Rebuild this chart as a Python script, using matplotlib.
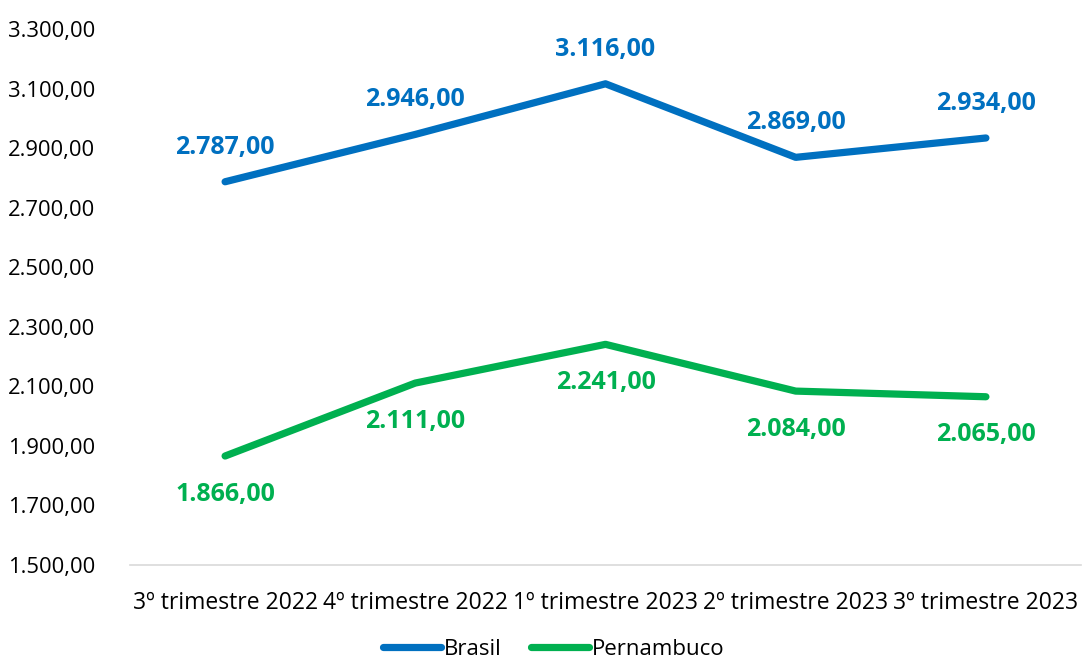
import matplotlib
matplotlib.use("Agg")
import matplotlib.pyplot as plt
from matplotlib.ticker import FuncFormatter, FixedLocator

categories = ["3º trimestre 2022", "4º trimestre 2022", "1º trimestre 2023",
              "2º trimestre 2023", "3º trimestre 2023"]
brasil = [2787, 2946, 3116, 2869, 2934]
pernambuco = [1866, 2111, 2241, 2084, 2065]
y_ticks = [1500, 1700, 1900, 2100, 2300, 2500, 2700, 2900, 3100, 3300]

plt.rcParams['font.family'] = ['Open Sans', 'DejaVu Sans']

def br(v, pos=None):
    s = f"{v:,.2f}"
    return s.replace(",", "X").replace(".", ",").replace("X", ".")

fig = plt.figure(figsize=(10.82, 6.64), dpi=100)
ax = fig.add_axes([130/1082, 1-565/664, 951/1082, (565-29)/664])

blue = "#0070C0"
green = "#00B050"
x = list(range(len(categories)))
ax.plot(x, brasil, color=blue, lw=5.2, solid_capstyle='round', label="Brasil")
ax.plot(x, pernambuco, color=green, lw=5.2, solid_capstyle='round', label="Pernambuco")

for xi, v in zip(x, brasil):
    ax.annotate(br(v), (xi, v), xytext=(0, 25), textcoords='offset points',
                ha='center', va='center', color=blue, fontsize=18, fontweight='bold')
for xi, v in zip(x, pernambuco):
    ax.annotate(br(v), (xi, v), xytext=(0, -27.5), textcoords='offset points',
                ha='center', va='center', color=green, fontsize=18, fontweight='bold')

ax.set_xlim(-0.5, 4.5)
ax.set_ylim(1500, 3300)
ax.yaxis.set_major_locator(FixedLocator(y_ticks))
ax.yaxis.set_major_formatter(FuncFormatter(br))
ax.set_xticks(x)
ax.set_xticklabels(categories)
ax.tick_params(axis='x', length=0, labelsize=16.5, colors='black', pad=19)
ax.tick_params(axis='y', length=0, labelsize=15.8, colors='black', pad=25)
for s in ['top', 'right', 'left']:
    ax.spines[s].set_visible(False)
ax.spines['bottom'].set_color('#D9D9D9')
ax.spines['bottom'].set_linewidth(1.2)

fig.legend(loc='lower center', bbox_to_anchor=(0.512, -0.024), ncol=2, frameon=False,
           fontsize=16, handlelength=2.6, handletextpad=0.15, columnspacing=1.3)

fig.savefig("out.png", dpi=100)
